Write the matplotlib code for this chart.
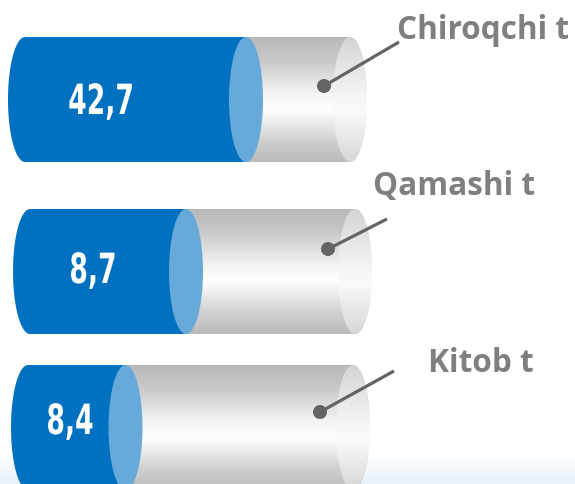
import numpy as np
import matplotlib
matplotlib.use("Agg")
import matplotlib.pyplot as plt
from matplotlib.patches import Polygon, Ellipse, Circle
from matplotlib.colors import LinearSegmentedColormap
from matplotlib.transforms import Affine2D
from matplotlib import patheffects

# data
labels = ["Chiroqchi t", "Qamashi t", "Kitob t"]
values = [42.7, 8.7, 8.4]
fill_share = [0.68, 0.48, 0.30]   # share of the tube painted blue

# layout (pixels, y grows downwards)
tube_top = [37, 209, 365]
tube_h = 125
tube_left = [25, 30, 28]
tube_len = 325
cap_w = 17
label_xy = [(397, 39), (373, 195), (428, 372)]
value_xy = [(101, 114), (93, 283), (70, 434)]
dot_xy = [(324, 86), (328, 249), (320, 412)]
lead_end = [(399, 42), (387, 219), (394, 371)]

BLUE = "#0070c0"
LIGHT_BLUE = "#67aada"
GREY_TXT = "#7f7f7f"
DOT = "#646464"

body_cmap = LinearSegmentedColormap.from_list(
    "body", [(0, "#b9b9b9"), (0.18, "#c8c8c8"), (0.45, "#f4f4f4"),
             (0.58, "#ffffff"), (0.82, "#d2d2d2"), (1, "#bababa")])
cap_cmap = LinearSegmentedColormap.from_list(
    "cap", [(0, "#d4d4d4"), (0.5, "#f7f7f7"), (0.6, "#fafafa"), (1, "#d6d6d6")])
bg_cmap = LinearSegmentedColormap.from_list("bg", ["#ffffff", "#e8f2fa"])


class Squeeze(patheffects.AbstractPathEffect):
    """Narrow the glyphs horizontally around a given display x."""

    def __init__(self, cx, sx):
        super().__init__()
        self.cx = cx
        self.sx = sx

    def draw_path(self, renderer, gc, tpath, affine, rgbFace=None):
        a = affine + Affine2D().translate(-self.cx, 0).scale(self.sx, 1).translate(self.cx, 0)
        renderer.draw_path(gc, tpath, a, rgbFace)


W, H = 575, 484
fig = plt.figure(figsize=(W / 100, H / 100), dpi=100)
ax = fig.add_axes([0, 0, 1, 1])
ax.set_xlim(0, W)
ax.set_ylim(H, 0)
ax.axis("off")

grad = np.linspace(0, 1, 256).reshape(-1, 1)

# faint blue band at the bottom
ax.imshow(grad, cmap=bg_cmap, extent=(0, W, H, 452), aspect="auto",
          origin="upper", zorder=0)


def half_arc(cx, cy, hw, hh, a0, a1, n=60):
    t = np.radians(np.linspace(a0, a1, n))
    return np.column_stack([cx + hw * np.cos(t), cy - hh * np.sin(t)])


def gradient_in(patch, extent, cmap, z):
    ax.add_patch(patch)
    im = ax.imshow(grad, cmap=cmap, extent=extent, aspect="auto",
                   origin="upper", zorder=z)
    im.set_clip_path(patch)


for i in range(len(labels)):
    top = tube_top[i]
    bot = top + tube_h
    cy = top + tube_h / 2
    hh = tube_h / 2
    x0 = tube_left[i]
    x1 = x0 + tube_len
    xb = x0 + fill_share[i] * tube_len

    # grey body
    pts = np.vstack([[[xb, top]], half_arc(x1, cy, cap_w, hh, 90, -90), [[xb, bot]]])
    body = Polygon(pts, closed=True, facecolor="none", edgecolor="none")
    gradient_in(body, (xb - 1, x1 + cap_w + 1, bot, top), body_cmap, 2)

    # right end cap
    cap = Ellipse((x1, cy), 2 * cap_w, tube_h, facecolor="none", edgecolor="none")
    gradient_in(cap, (x1 - cap_w, x1 + cap_w, bot, top), cap_cmap, 3)

    # blue fill
    pts = np.vstack([[[xb, top]], half_arc(x0, cy, cap_w, hh, 90, 270), [[xb, bot]]])
    ax.add_patch(Polygon(pts, closed=True, facecolor=BLUE, edgecolor="none", zorder=4))
    ax.add_patch(Ellipse((xb, cy), 2 * cap_w, tube_h, facecolor=LIGHT_BLUE,
                         edgecolor="none", zorder=5))

    # value, narrowed to look like a condensed face
    vx, vy = value_xy[i]
    cx_disp = ax.transData.transform((vx, vy))[0]
    ax.text(vx, vy, f"{values[i]:.1f}".replace(".", ","), ha="center", va="baseline",
            color="white", fontsize=30, fontweight="bold", family="DejaVu Sans",
            path_effects=[Squeeze(cx_disp, 0.64)], zorder=6)

    # leader + label
    dx, dy = dot_xy[i]
    ex, ey = lead_end[i]
    ax.plot([dx, ex], [dy, ey], color=DOT, lw=2.3, solid_capstyle="butt", zorder=6)
    ax.add_patch(Circle((dx, dy), 7, facecolor=DOT, edgecolor="none", zorder=7))
    lx, ly = label_xy[i]
    ax.text(lx, ly, labels[i], ha="left", va="baseline", color=GREY_TXT,
            fontsize=22.7, fontweight="bold", family=["Open Sans", "DejaVu Sans"], zorder=6)

fig.savefig("out.png", dpi=100)
